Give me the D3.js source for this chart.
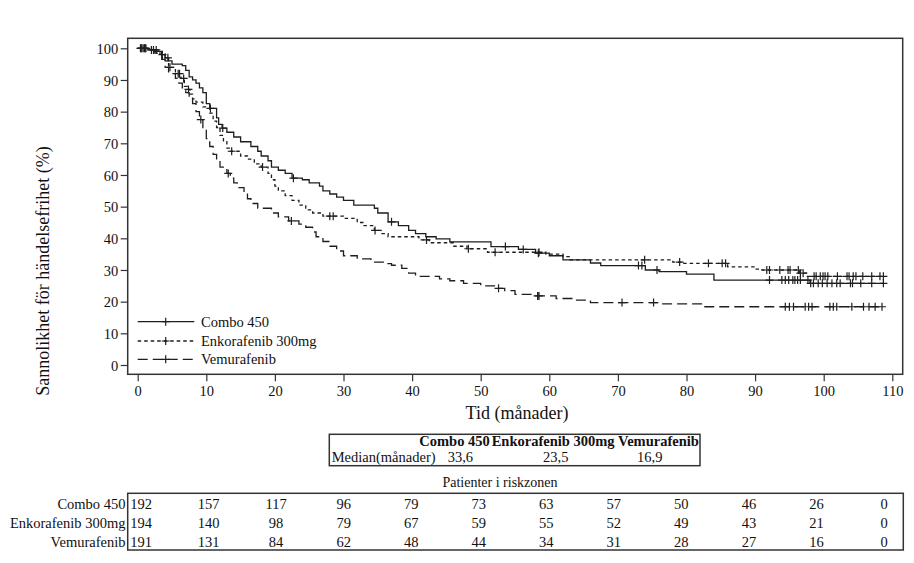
<!DOCTYPE html>
<html>
<head>
<meta charset="utf-8">
<script src="https://cdn.jsdelivr.net/npm/d3@7"></script>
<style>
body { margin: 0; background: #fff; }
svg text { font-family: "Liberation Serif", "Times New Roman", Times, "DejaVu Serif", serif; fill: #111; }
</style>
</head>
<body>
<div id="chart"></div>
<script>
const WIDTH = 914;
const HEIGHT = 563;

var seriesNames = ['Combo 450', 'Enkorafenib 300mg', 'Vemurafenib'];

// Kaplan-Meier steps (months, % event free)
var comboTime = [0, 1.5, 2.5, 3.5, 4, 4.5, 5, 6.5, 7, 7.5, 8, 8.5, 9, 9.5, 10, 10.5, 11.5, 11.8, 12.3, 13,
    14, 15, 16.5, 17.5, 18, 19, 19.5, 20.5, 21.5, 22.5, 24, 25, 26.5, 27, 28, 29, 30, 31.5, 34.5, 35,
    36.5, 38, 39.5, 40.5, 42, 43.5, 45.5, 51.5, 55.5, 58, 60, 62, 66, 67.5, 74, 76, 80, 84, 98];
var comboSurv = [100, 99.5, 99, 98, 97, 96, 95, 94.5, 93, 91, 90, 89, 87.5, 86, 82.5, 81, 78, 76, 74.8, 73.5,
    72, 70.5, 69, 67.5, 66, 64.5, 62.5, 61.5, 60.5, 59, 58.5, 57.5, 56.5, 55, 54, 53, 52, 50.5, 49.5, 48,
    45.2, 44, 42.5, 41.5, 40.5, 39.8, 38.9, 37.4, 36.5, 35.3, 34.5, 33.2, 32.2, 31.4, 30, 29.5, 28.7, 26.8, 25.8];

var enkoTime = [0, 2, 3, 4, 4.5, 5.5, 6.3, 6.8, 7.2, 7.6, 8, 8.5, 9.5, 10.5, 11, 11.5, 12, 12.5, 13, 13.5,
    15, 16, 17, 18, 19, 19.5, 20, 20.5, 21.5, 22.5, 23.5, 24.5, 25.5, 27, 30, 32, 33, 34.5, 35.5, 36.5,
    41, 42.5, 46, 48, 51, 59.5, 62, 63, 78, 79.5, 86, 90, 91, 96.5, 97.5];
var enkoSurv = [100, 99.5, 98.5, 96, 94, 92, 90.5, 88, 87, 85.5, 84, 83, 81.5, 79.5, 77, 75, 72.5, 70.5, 68.5, 67.5,
    66, 65, 63.5, 62.5, 60.5, 58.5, 56.5, 55, 53.5, 52, 50.5, 49, 48, 47, 46.3, 45, 44, 42.5, 41.5, 40.5,
    39.5, 38.6, 37.5, 36.7, 35.6, 35, 34.2, 33.2, 32.5, 32.1, 31, 30.3, 30, 29, 28];

var vemuTime = [0, 1.5, 2.5, 3.5, 4, 4.5, 5.5, 6, 6.5, 7, 7.5, 8, 8.5, 9, 9.5, 10, 10.5, 11, 11.5, 12,
    13, 13.5, 14, 14.5, 15.5, 16, 16.5, 17.5, 19.5, 20.5, 22, 23.5, 24.5, 25.5, 26, 27, 28, 29, 30, 32,
    34, 36, 37, 38.5, 39.5, 40.5, 44, 45.5, 47.5, 50, 52, 53.5, 55, 58, 61, 63.5, 66, 76, 82.5];
var vemuSurv = [100, 99.5, 98.5, 96.5, 94, 92, 90.5, 89, 87.5, 86, 84.5, 82.5, 80, 77.5, 74.5, 71.5, 69, 66.5, 64.5, 62.5,
    60.5, 59, 57.5, 56, 54.5, 52.5, 51, 49.5, 48, 46.8, 45.5, 44.5, 43.5, 42, 40.5, 39, 37.5, 36, 34.5, 33.5,
    32.5, 32, 31.5, 30.5, 29, 28, 27.2, 26.6, 25.8, 25, 24.2, 23.5, 22.3, 21.8, 21, 20.5, 19.7, 19.3, 18.4];

// censored observations (months)
var comboCens = [0.4, 0.8, 1.2, 2.3, 3.6, 4.4, 10.6, 12.4, 22.7, 37, 53.6, 56.2, 58.4, 73, 73.5, 75.7,
    92.1, 93.9, 94.4, 94.9, 95.5, 95.8, 96.2, 96.6, 97.7, 98.1, 98.5, 99.2, 99.8, 100.5, 101.2, 101.9,
    102.4, 103.9, 104.2, 105.4, 107, 108.7];
var enkoCens = [0.6, 1.0, 2.7, 4.7, 5.9, 6.1, 6.7, 7.4, 13.7, 18.2, 28, 28.5, 34.6, 42.1, 48.2, 52.1, 58.5,
    73.9, 79, 83.2, 85.2, 85.7, 91.7, 92.1, 93.6, 94.8, 95.1, 96.3, 96.6, 97, 98.6, 98.9, 99.5, 99.9,
    100.2, 100.6, 102, 103.4, 103.7, 104.3, 104.7, 105.7, 107, 108.2, 108.7];
var vemuCens = [0.5, 1.1, 2.0, 9.2, 13.2, 22.4, 52.6, 58.3, 58.5, 70.6, 75.2, 94.4, 95, 95.6, 97.3, 97.8,
    98.3, 100.9, 101.4, 101.9, 104.1, 105.8, 106.6, 107.5, 108.5];

var xTicks = [0, 10, 20, 30, 40, 50, 60, 70, 80, 90, 100, 110];
var yTicks = [0, 10, 20, 30, 40, 50, 60, 70, 80, 90, 100];

var medianLabel = 'Median(månader)';
var medianValues = ['33,6', '23,5', '16,9'];

var riskTimes = [0, 10, 20, 30, 40, 50, 60, 70, 80, 90, 100, 110];
var comboRisk = [192, 157, 117, 96, 79, 73, 63, 57, 50, 46, 26, 0];
var enkoRisk = [194, 140, 98, 79, 67, 59, 55, 52, 49, 43, 21, 0];
var vemuRisk = [191, 131, 84, 62, 48, 44, 34, 31, 28, 27, 16, 0];

var dashes = [null, '3.5,3', '10,5'];
var INK = '#1e1e1e';
var FONT = '"Liberation Serif", "Times New Roman", Times, serif';

var series = [
    {name: seriesNames[0], time: comboTime, surv: comboSurv, cens: comboCens, risk: comboRisk},
    {name: seriesNames[1], time: enkoTime, surv: enkoSurv, cens: enkoCens, risk: enkoRisk},
    {name: seriesNames[2], time: vemuTime, surv: vemuSurv, cens: vemuCens, risk: vemuRisk}
];

var x = d3.scaleLinear().domain([0, 110]).range([137.7, 892.3]);
var y = d3.scaleLinear().domain([0, 100]).range([365, 48.3]);
var riskX = d3.scaleLinear().domain([0, 110]).range([141, 884]);

var frame = {left: 127.7, right: 902.7, top: 38.3, bottom: 374.3};

var svg = d3.select('#chart').append('svg')
    .attr('width', WIDTH)
    .attr('height', HEIGHT)
    .attr('font-family', FONT)
    .style('background', '#fff');

// frame
svg.append('rect')
    .attr('x', frame.left).attr('y', frame.top)
    .attr('width', frame.right - frame.left)
    .attr('height', frame.bottom - frame.top)
    .attr('fill', 'none').attr('stroke', '#333').attr('stroke-width', 1.5);

// axes
var xAxis = d3.axisBottom(x).tickValues(xTicks).tickSize(7).tickSizeOuter(0);
var xAxisG = svg.append('g').attr('transform', 'translate(0,' + frame.bottom + ')').call(xAxis);
var yAxis = d3.axisLeft(y).tickValues(yTicks).tickSize(7).tickSizeOuter(0);
var yAxisG = svg.append('g').attr('transform', 'translate(' + frame.left + ',0)').call(yAxis);

[xAxisG, yAxisG].forEach(function (g) {
    g.attr('font-family', FONT);
    g.select('.domain').remove();
    g.selectAll('line').attr('stroke', '#333').attr('stroke-width', 1.2);
    g.selectAll('text').attr('font-size', '14.5px').attr('fill', '#111');
});
xAxisG.selectAll('text').attr('dy', null).attr('y', 22);
yAxisG.selectAll('text').attr('x', -9.5).attr('dy', '0.35em');

svg.append('text')
    .attr('x', 517).attr('y', 419)
    .attr('text-anchor', 'middle').attr('font-size', '18px')
    .text('Tid (månader)');

svg.append('text')
    .attr('transform', 'translate(49,271) rotate(-90)')
    .attr('text-anchor', 'middle').attr('font-size', '18px')
    .text('Sannolikhet för händelsefrihet (%)');

// curves
function survAt(s, t) {
    var i = d3.bisectRight(s.time, t) - 1;
    return s.surv[Math.max(i, 0)];
}

var stepLine = d3.line()
    .x(function (d) { return x(d[0]); })
    .y(function (d) { return y(d[1]); })
    .curve(d3.curveStepAfter);

function plus(cx, cy, r) {
    return 'M' + (cx - r) + ',' + cy + 'H' + (cx + r) + 'M' + cx + ',' + (cy - r) + 'V' + (cy + r);
}

series.forEach(function (s, k) {
    var pts = s.time.map(function (t, i) { return [t, s.surv[i]]; });
    var tEnd = d3.max(s.cens);
    pts.push([tEnd, s.surv[s.surv.length - 1]]);
    var g = svg.append('g');
    g.append('path')
        .attr('d', stepLine(pts))
        .attr('fill', 'none')
        .attr('stroke', INK)
        .attr('stroke-width', 1.3)
        .attr('stroke-dasharray', dashes[k]);
    g.append('path')
        .attr('d', s.cens.map(function (t) { return plus(x(t), y(survAt(s, t)), 4); }).join(''))
        .attr('fill', 'none')
        .attr('stroke', INK)
        .attr('stroke-width', 1.2);
});

// legend
var legendY = [321.7, 341, 359.3];
series.forEach(function (s, k) {
    var g = svg.append('g');
    g.append('line')
        .attr('x1', 137.7).attr('x2', 194.3)
        .attr('y1', legendY[k]).attr('y2', legendY[k])
        .attr('stroke', INK).attr('stroke-width', 1.3)
        .attr('stroke-dasharray', dashes[k]);
    g.append('path')
        .attr('d', plus(165.7, legendY[k], 4))
        .attr('stroke', INK).attr('stroke-width', 1.2);
    g.append('text')
        .attr('x', 201).attr('y', legendY[k]).attr('dy', '0.35em')
        .attr('font-size', '14.5px')
        .text(s.name);
});

// median table
svg.append('rect')
    .attr('x', 329.3).attr('y', 434.3).attr('width', 370.7).attr('height', 31.4)
    .attr('fill', 'none').attr('stroke', '#333').attr('stroke-width', 1.5);
var headX = [419.3, 491.7, 618];
var valX = [447.7, 543, 637];
series.forEach(function (s, k) {
    svg.append('text')
        .attr('x', headX[k]).attr('y', 446)
        .attr('font-size', '14.5px').attr('font-weight', 'bold')
        .text(s.name);
    svg.append('text')
        .attr('x', valX[k]).attr('y', 461.5)
        .attr('font-size', '14.5px')
        .text(medianValues[k]);
});
svg.append('text')
    .attr('x', 331.7).attr('y', 461.5)
    .attr('font-size', '14.5px')
    .text(medianLabel);

// risk table
svg.append('text')
    .attr('x', 500).attr('y', 487)
    .attr('text-anchor', 'middle').attr('font-size', '14px')
    .text('Patienter i riskzonen');
svg.append('rect')
    .attr('x', 127.7).attr('y', 493.3).attr('width', 775.6).attr('height', 56.7)
    .attr('fill', 'none').attr('stroke', '#333').attr('stroke-width', 1.5);
var rowY = [508.5, 527.5, 546.5];
series.forEach(function (s, k) {
    svg.append('text')
        .attr('x', 125.5).attr('y', rowY[k])
        .attr('text-anchor', 'end').attr('font-size', '14.5px')
        .text(s.name);
    svg.append('g').selectAll('text')
        .data(s.risk)
        .join('text')
        .attr('x', function (d, i) { return riskX(riskTimes[i]); })
        .attr('y', rowY[k])
        .attr('text-anchor', 'middle').attr('font-size', '14.5px')
        .text(function (d) { return d; });
});
</script>
</body>
</html>
